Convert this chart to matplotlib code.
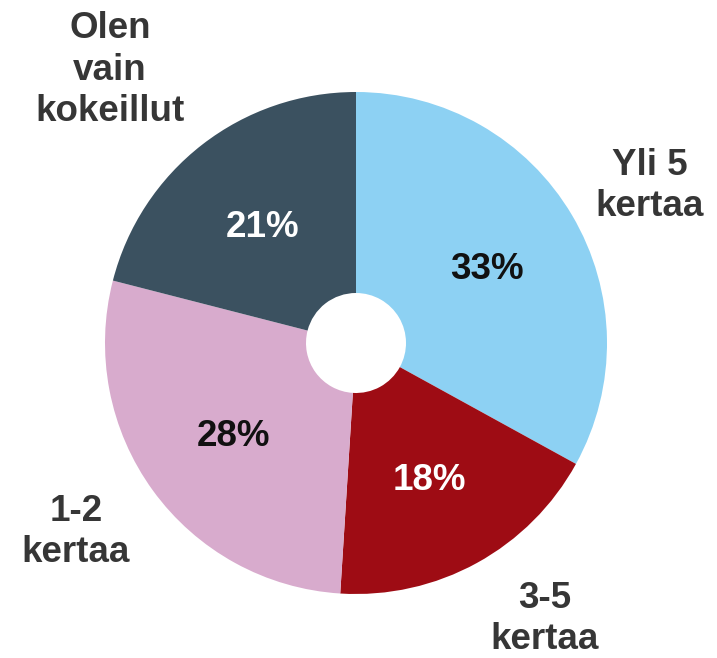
import matplotlib
matplotlib.use("Agg")
import matplotlib.pyplot as plt

categories = ["Yli 5\nkertaa", "3-5\nkertaa", "1-2\nkertaa", "Olen\nvain\nkokeillut"]
values = [33, 18, 28, 21]
colors = ["#8DD1F3", "#9E0C14", "#D8ABCD", "#3B5160"]
pct_colors = ["#111111", "#FFFFFF", "#111111", "#FFFFFF"]

W, H = 717, 658
fig = plt.figure(figsize=(W / 100, H / 100), dpi=100)
ax = fig.add_axes([0, 0, 1, 1])
ax.set_xlim(0, W)
ax.set_ylim(0, H)
ax.set_aspect("equal")
ax.axis("off")

cx, cy, R = 356, H - 343, 251
wedges, texts, autotexts = ax.pie(
    values, colors=colors, startangle=90, counterclock=False,
    center=(cx, cy), radius=R, autopct="%d%%", pctdistance=0.605,
    wedgeprops=dict(width=R - 50, linewidth=0),
    textprops=dict(family="Liberation Sans", fontweight="bold", fontsize=26.5),
    frame=False,
)
ax.set_xlim(0, W)
ax.set_ylim(0, H)
for t, c in zip(autotexts, pct_colors):
    t.set_color(c)
    t.set_va("center_baseline")

label_pos = [(650, 186), (545, 619), (76, 532), (110, 70)]
for lab, (x, y) in zip(categories, label_pos):
    ax.text(x, H - y, lab, ha="center", va="center", fontsize=26.5,
            fontweight="bold", family="Liberation Sans", color="#363636",
            linespacing=1.25, multialignment="center")

fig.savefig("out.png", dpi=100)
